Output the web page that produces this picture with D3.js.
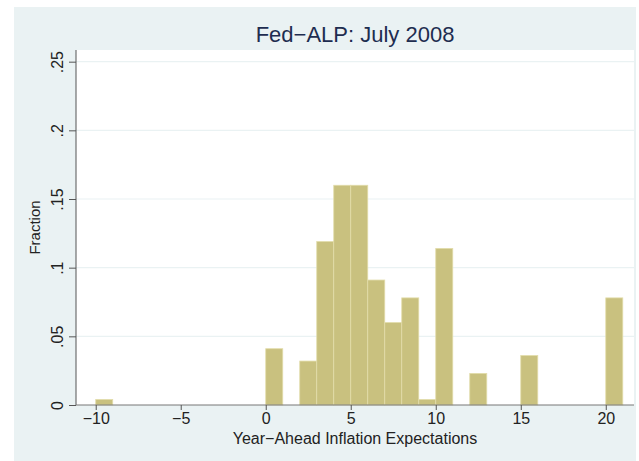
<!DOCTYPE html>
<html>
<head>
<meta charset="utf-8">
<script src="https://cdn.jsdelivr.net/npm/d3@7"></script>
<style>
  body { margin: 0; background: #fff; }
  text { font-family: "Liberation Sans", Arial, sans-serif; }
</style>
</head>
<body>
<div id="chart-area"></div>
<script>
// histogram bins (left edge of each 1-unit bin) and fraction in each
var binStarts = [-10, 0, 2, 3, 4, 5, 6, 7, 8, 9, 10, 12, 15, 20];
var fractions = [0.004, 0.041, 0.032, 0.119, 0.160, 0.160, 0.091, 0.060, 0.078, 0.004, 0.114, 0.023, 0.036, 0.078];
var xTicks = [-10, -5, 0, 5, 10, 15, 20];
var yTicks = [0, 0.05, 0.1, 0.15, 0.2, 0.25];
var yTickLabels = ["0", ".05", ".1", ".15", ".2", ".25"];

var svgWidth = 639;
var svgHeight = 461;
var margin = { top: 50, left: 76, bottom: 56, right: 5 };
var width = svgWidth - margin.left - margin.right;
var height = svgHeight - margin.top - margin.bottom;

var svg = d3.select("#chart-area")
            .append("svg")
            .attr("width", svgWidth)
            .attr("height", svgHeight);

// outer panel
svg.append("rect")
   .attr("x", 14).attr("y", 7)
   .attr("width", 622).attr("height", 454)
   .attr("fill", "#eaf2f3");

var g = svg.append("g")
           .attr("transform", "translate(" + margin.left + "," + margin.top + ")");

g.append("rect")
 .attr("width", width).attr("height", height)
 .attr("fill", "#fff");

var x = d3.scaleLinear()
          .domain([-11.16, 21.66])
          .range([0, width]);

var y = d3.scaleLinear()
          .domain([0, 0.2585])
          .range([height, 0]);

// grid lines
g.selectAll(".grid")
 .data(yTicks.slice(1))
 .enter().append("line")
 .attr("x1", 0).attr("x2", width)
 .attr("y1", (d) => y(d)).attr("y2", (d) => y(d))
 .attr("stroke", "#eaf2f3")
 .attr("stroke-width", 1.2);

// bars
var bars = binStarts.map((s, i) => ({ start: s, value: fractions[i] }));
g.selectAll(".bar")
 .data(bars)
 .enter().append("rect")
 .attr("x", (d) => x(d.start))
 .attr("width", (d) => x(d.start + 1) - x(d.start))
 .attr("y", (d) => y(d.value))
 .attr("height", (d) => height - y(d.value))
 .attr("fill", "#c9c17f")
 .attr("stroke", "#e2dcaa")
 .attr("stroke-width", 0.8);

// y axis
var yAxisCall = d3.axisLeft(y)
                  .tickValues(yTicks)
                  .tickFormat((d, i) => yTickLabels[i])
                  .tickSize(7)
                  .tickPadding(6);

var yAxis = g.append("g").call(yAxisCall);
yAxis.select(".domain").attr("stroke", "#555").attr("d", "M0," + height + "V0");
yAxis.selectAll(".tick line").attr("stroke", "#555");
yAxis.selectAll("text")
     .attr("font-size", "16px")
     .attr("fill", "#222")
     .attr("transform", "rotate(-90)")
     .attr("x", 0)
     .attr("y", -13)
     .attr("dy", "0")
     .attr("text-anchor", "middle");

// x axis
var xAxisCall = d3.axisBottom(x)
                  .tickValues(xTicks)
                  .tickFormat((d) => d < 0 ? "\u2212" + Math.abs(d) : d)
                  .tickSize(5)
                  .tickPadding(3);

var xAxis = g.append("g")
             .attr("transform", "translate(0," + height + ")")
             .call(xAxisCall);
xAxis.select(".domain").attr("stroke", "#777").attr("d", "M0,0H" + width);
xAxis.selectAll(".tick line").attr("stroke", "#555");
xAxis.selectAll("text")
     .attr("font-size", "16px")
     .attr("fill", "#222");

// y label
g.append("text")
 .attr("transform", "translate(-36," + (height / 2) + ") rotate(-90)")
 .attr("text-anchor", "middle")
 .attr("font-size", "15px")
 .attr("fill", "#222")
 .text("Fraction");

// x label
g.append("text")
 .attr("x", (x(-11.16) + x(21.66)) / 2)
 .attr("y", height + 39)
 .attr("text-anchor", "middle")
 .attr("font-size", "16px")
 .attr("fill", "#222")
 .text("Year\u2212Ahead Inflation Expectations");

// title
g.append("text")
 .attr("x", width / 2)
 .attr("y", -8)
 .attr("text-anchor", "middle")
 .attr("font-size", "22px")
 .attr("fill", "#1e2d50")
 .text("Fed\u2212ALP: July 2008");
</script>
</body>
</html>
